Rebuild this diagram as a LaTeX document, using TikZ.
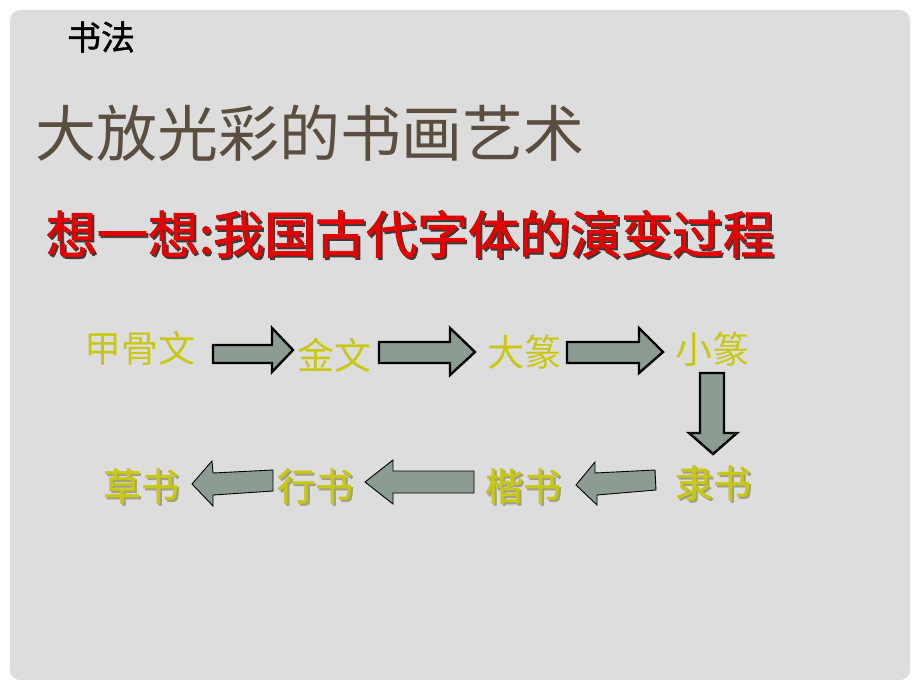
\documentclass[tikz,border=0pt]{standalone}
\usepackage{fontspec}
\newfontfamily\cjk{Noto Sans CJK SC}
\newfontfamily\cjkmid[FakeBold=1.2]{Noto Sans CJK SC}
\newfontfamily\cjkheavy[FakeBold=1.8]{Noto Sans CJK SC}
\definecolor{bgpanel}{RGB}{221,221,221}
\definecolor{titlebrown}{RGB}{89,78,63}
\definecolor{subred}{RGB}{228,0,0}
\definecolor{shadowgray}{RGB}{60,60,60}
\definecolor{glyphyellow}{RGB}{200,200,20}
\definecolor{yshadow}{RGB}{160,160,130}
\definecolor{arrowfill}{RGB}{140,156,146}
\newcommand{\shadowtext}[3]{\makebox[0pt][l]{\raisebox{-#3}{\hspace{#3}\textcolor{#1}{#2}}}#2}
\tikzset{
  lbl/.style={inner sep=0pt, anchor=center},
  toptxt/.style={lbl, text=glyphyellow, font=\cjk\fontsize{37}{37}\selectfont},
  bottxt/.style={lbl, text=glyphyellow, font=\cjkmid\fontsize{38}{38}\selectfont},
  bigarrow/.style={fill=arrowfill, draw=black, line width=2.4pt, line join=miter},
  thinarrow/.style={fill=arrowfill, draw=black, line width=0.9pt, line join=miter}
}
\begin{document}
\begin{tikzpicture}[x=1pt, y=-1pt]
\useasboundingbox (0,0) rectangle (920,690);
\fill[white] (0,0) rectangle (920,690);
\fill[bgpanel, rounded corners=10pt] (10,10) rectangle (910,680);

% headings
\node[lbl, font=\cjkmid\fontsize{34}{34}\selectfont] (shufa) at (101,37) {书法};
\node[lbl, text=titlebrown, font=\cjk\fontsize{61}{61}\selectfont] (title) at (310,133) {大放光彩的书画艺术};
\node[lbl, text=subred, font=\cjkheavy\fontsize{51}{51}\selectfont] (sub) at (410,235)
  {\shadowtext{shadowgray}{想一想:我国古代字体的演变过程}{2pt}};

% top row
\node[toptxt] (jgw) at (140,348) {甲骨文};
\node[toptxt] (jw) at (334,355) {金文};
\node[toptxt] (dz) at (524,352) {大篆};
\node[toptxt] (xz) at (712,349) {小篆};

% bottom row
\node[bottxt] (cs) at (141,487) {\shadowtext{yshadow}{草书}{2pt}};
\node[bottxt] (xs) at (315,487) {\shadowtext{yshadow}{行书}{2pt}};
\node[bottxt] (ks) at (523,487) {\shadowtext{yshadow}{楷书}{2pt}};
\node[bottxt] (ls) at (713,484) {\shadowtext{yshadow}{隶书}{2pt}};

% block arrows, top row
\draw[bigarrow] (213,345) -- (272,345) -- (272,328) -- (293,350) -- (272,372) -- (272,363) -- (213,363) -- cycle;
\draw[bigarrow] (379,342) -- (450,342) -- (450,328) -- (475,352) -- (450,375) -- (450,363) -- (379,363) -- cycle;
\draw[bigarrow] (567,342) -- (639,342) -- (639,328) -- (663,352) -- (639,373) -- (639,363) -- (567,363) -- cycle;
% down arrow
\draw[bigarrow] (700,373) -- (724,373) -- (724,433) -- (737,433) -- (713,454) -- (689,433) -- (700,433) -- cycle;
% block arrows, bottom row
\draw[thinarrow] (192,484) -- (212,461) -- (213,473) -- (273,470) -- (273,491) -- (213,495) -- (213,506) -- cycle;
\draw[thinarrow] (365,482) -- (393,460) -- (393,471) -- (474,471) -- (474,493) -- (393,493) -- (393,504) -- cycle;
\draw[thinarrow] (576,485) -- (595,462) -- (595,473) -- (655,470) -- (656,490) -- (597,495) -- (597,505) -- cycle;
\end{tikzpicture}
\end{document}
